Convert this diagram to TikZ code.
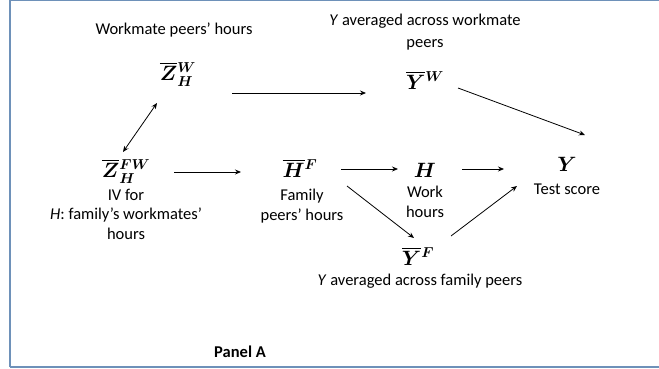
\documentclass[tikz,border=0pt]{standalone}
\usepackage{amsmath}
\usepackage{bm}
\usepackage{fontspec}
\setmainfont{Carlito}
\usetikzlibrary{arrows.meta}
\definecolor{frame}{RGB}{110,145,185}
\begin{document}
\begin{tikzpicture}[x=1pt,y=-1pt,
  lbl/.style={font=\fontsize{16.5}{19.5}\selectfont, align=center, inner sep=0pt},
  sym/.style={font=\fontsize{21.5}{24}\selectfont, inner sep=0pt},
  arr/.style={-{Stealth[length=6pt,width=5pt]}, line width=0.8pt},
  darr/.style={{Stealth[length=6pt,width=5pt]}-{Stealth[length=6pt,width=5pt]}, line width=0.8pt}]
\useasboundingbox (0,0) rectangle (659,369);
\draw[frame, line width=1.5pt] (10,367) -- (10,0.7) -- (659,0.7);
\draw[frame, line width=1.5pt] (10,367) -- (659,367);

\node[lbl] (tZW) at (174,30) {Workmate peers’ hours};
\node[sym] (ZW) at (178,74) {$\overline{\bm{Z}}{}_{\bm{H}}^{\bm{W}}$};
\node[lbl] (tYW) at (425,32) {\textit{Y} averaged across workmate\\[3pt]peers};
\node[sym] (YW) at (425,80) {$\overline{\bm{Y}}{}^{\bm{W}}$};

\node[sym] (ZFW) at (126,171) {$\overline{\bm{Z}}{}_{\bm{H}}^{\bm{FW}}$};
\node[lbl] (tZFW) at (126,214) {IV for\\\textit{H}: family’s workmates’\\hours};
\node[sym] (HF) at (300,168) {$\overline{\bm{H}}{}^{\bm{F}}$};
\node[lbl] (tHF) at (302,206) {Family\\peers’ hours};
\node[sym] (H) at (425,170) {$\bm{H}$};
\node[lbl] (tH) at (425,202) {Work\\hours};
\node[sym] (Y) at (567,164) {$\bm{Y}$};
\node[lbl] (tY) at (567,189) {Test score};
\node[sym] (YF) at (418,256) {$\overline{\bm{Y}}{}^{\bm{F}}$};
\node[lbl] (tYF) at (420,281) {\textit{Y} averaged across family peers};
\node[lbl, font=\fontsize{16.5}{19.5}\selectfont\bfseries] (panel) at (240,352) {Panel A};

\coordinate (a1) at (232,93); \coordinate (a2) at (366,93);
\draw[arr] (a1) -- (a2);
\coordinate (b1) at (458,88); \coordinate (b2) at (585,135);
\draw[arr] (b1) -- (b2);
\coordinate (c1) at (123,152); \coordinate (c2) at (157,103);
\draw[darr] (c1) -- (c2);
\coordinate (d1) at (174,172); \coordinate (d2) at (241,172);
\draw[arr] (d1) -- (d2);
\coordinate (e1) at (341,169); \coordinate (e2) at (398,169);
\draw[arr] (e1) -- (e2);
\coordinate (f1) at (462,169); \coordinate (f2) at (504,169);
\draw[arr] (f1) -- (f2);
\coordinate (g1) at (347,186); \coordinate (g2) at (414,238);
\draw[arr] (g1) -- (g2);
\coordinate (h1) at (451,236); \coordinate (h2) at (517,186);
\draw[arr] (h1) -- (h2);
\end{tikzpicture}
\end{document}
